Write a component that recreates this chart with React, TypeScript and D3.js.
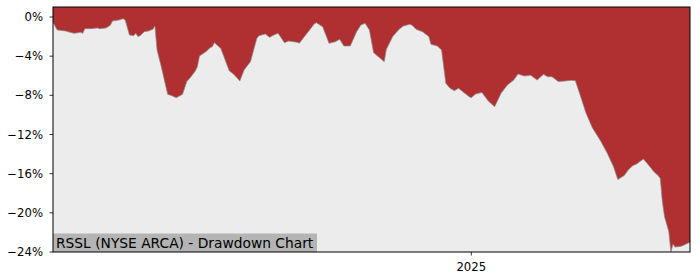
import React from "react";
import * as d3 from "d3";

const dates: string[] = [
  "2024-06-18","2024-06-20","2024-06-24","2024-06-26","2024-06-28","2024-07-01","2024-07-02","2024-07-03","2024-07-06","2024-07-09",
  "2024-07-10","2024-07-13","2024-07-15","2024-07-16","2024-07-19","2024-07-21","2024-07-22","2024-07-24","2024-07-26","2024-07-27",
  "2024-07-28","2024-07-29","2024-07-31","2024-08-02","2024-08-04","2024-08-05","2024-08-06","2024-08-08","2024-08-11","2024-08-13",
  "2024-08-15","2024-08-18","2024-08-20","2024-08-22","2024-08-24","2024-08-25","2024-08-26","2024-08-29","2024-08-31","2024-09-01",
  "2024-09-02","2024-09-05","2024-09-09","2024-09-11","2024-09-14","2024-09-16","2024-09-19","2024-09-22","2024-09-23","2024-09-26",
  "2024-09-28","2024-09-30","2024-10-02","2024-10-05","2024-10-07","2024-10-11","2024-10-12","2024-10-14","2024-10-16","2024-10-19",
  "2024-10-20","2024-10-23","2024-10-26","2024-10-29","2024-10-31","2024-11-02","2024-11-05","2024-11-08","2024-11-10","2024-11-12",
  "2024-11-14","2024-11-16","2024-11-21","2024-11-22","2024-11-25","2024-11-28","2024-11-30","2024-12-03","2024-12-04","2024-12-06",
  "2024-12-09","2024-12-12","2024-12-13","2024-12-16","2024-12-18","2024-12-20","2024-12-22","2024-12-24","2024-12-26","2024-12-28",
  "2024-12-31","2025-01-01","2025-01-03","2025-01-06","2025-01-09","2025-01-12","2025-01-15","2025-01-18","2025-01-21","2025-01-23",
  "2025-01-26","2025-01-29","2025-02-01","2025-02-04","2025-02-06","2025-02-08","2025-02-11","2025-02-14","2025-02-17","2025-02-19",
  "2025-02-21","2025-02-24","2025-02-27","2025-03-03","2025-03-06","2025-03-09","2025-03-11","2025-03-14","2025-03-16","2025-03-18",
  "2025-03-20","2025-03-23","2025-03-25","2025-03-28","2025-03-30","2025-03-31","2025-04-01","2025-04-02","2025-04-04","2025-04-05",
  "2025-04-06","2025-04-07","2025-04-10","2025-04-12","2025-04-14",
];

const drawdown: number[] = [
  -0.55,-1.33,-1.43,-1.57,-1.67,-1.57,-1.67,-1.19,-1.19,-1.12,
  -1.19,-1.12,-0.85,-0.41,-0.31,-0.17,-0.31,-1.84,-1.91,-1.67,
  -2.0,-1.91,-1.5,-1.43,-1.26,-0.92,-3.37,-5.08,-7.9,-8.04,
  -8.24,-7.9,-6.6,-6.1,-5.52,-5.08,-3.98,-3.54,-3.13,-3.03,
  -2.62,-3.2,-5.5,-5.82,-6.54,-5.41,-4.56,-2.18,-1.91,-1.74,
  -2.08,-1.84,-1.67,-2.62,-2.45,-2.59,-2.69,-2.11,-1.57,-0.72,
  -0.58,-0.99,-2.69,-2.52,-2.28,-2.96,-2.96,-1.5,-0.82,-0.65,
  -1.33,-3.64,-4.56,-3.3,-2.0,-1.26,-0.92,-0.75,-0.82,-1.26,
  -1.5,-2.0,-2.79,-2.96,-3.37,-6.77,-7.28,-7.53,-7.28,-7.63,
  -8.14,-8.24,-7.87,-7.7,-8.58,-9.16,-7.8,-6.95,-6.44,-5.82,
  -6.03,-5.96,-6.44,-5.86,-6.1,-6.1,-6.6,-6.54,-6.47,-6.5,
  -7.8,-9.8,-11.3,-12.7,-13.9,-15.3,-16.6,-16.2,-15.6,-15.2,
  -15.0,-14.5,-15.0,-15.8,-16.2,-16.5,-18.9,-20.4,-21.9,-24.0,
  -23.2,-23.5,-23.4,-23.2,-23.0,
];

const yTicks: number[] = [0, -4, -8, -12, -16, -20, -24];
const xTickDates: string[] = ["2025-01-01"];
const xTickLabels: string[] = ["2025"];
const title = "RSSL (NYSE ARCA) - Drawdown Chart";

export default function App() {
  const W = 700, H = 280;
  const left = 53, right = 690, top = 7, bottom = 252;
  const parse = d3.timeParse("%Y-%m-%d");
  const data = dates.map((d, i) => ({ date: parse(d) as Date, v: drawdown[i] }));
  const x = d3.scaleTime()
    .domain([data[0].date, data[data.length - 1].date])
    .range([left, right]);
  const y = d3.scaleLinear().domain([-24, 1.02]).range([bottom, top]);

  const area = d3.area<{ date: Date; v: number }>()
    .x(d => x(d.date))
    .y0(top)
    .y1(d => y(d.v));
  const line = d3.line<{ date: Date; v: number }>()
    .x(d => x(d.date))
    .y(d => y(d.v));

  const font = "'DejaVu Sans', sans-serif";
  const fmt = (v: number) => (v < 0 ? "\u2212" + Math.abs(v) : String(v)) + "%";

  return (
    <svg width={W} height={H} style={{ position: "absolute", left: 0, top: 0, background: "#fff" }}>
      <defs>
        <clipPath id="plot">
          <rect x={left} y={top} width={right - left} height={bottom - top} />
        </clipPath>
      </defs>
      <rect x={left} y={top} width={right - left} height={bottom - top} fill="#ececec" />
      <g clipPath="url(#plot)">
        <path d={area(data) || ""} fill="#b03031" />
        <path d={line(data) || ""} fill="none" stroke="#8a8a8a" strokeWidth={0.7} />
      </g>
      <rect x={left} y={233.5} width={264} height={bottom - 233.5} fill="#b4b4b4" />
      <text x={56} y={247.5} fontFamily={font} fontSize={13.8} fill="#000">{title}</text>
      <rect x={left} y={top} width={right - left} height={bottom - top} fill="none" stroke="#000" strokeWidth={1} />
      {yTicks.map(t => (
        <g key={t}>
          <line x1={left - 3.5} x2={left} y1={y(t)} y2={y(t)} stroke="#000" strokeWidth={0.8} />
          <text x={left - 10} y={y(t)} dy="0.35em" textAnchor="end" fontFamily={font} fontSize={11.7} fill="#000">{fmt(t)}</text>
        </g>
      ))}
      {xTickDates.map((d, i) => {
        const xx = x(parse(d) as Date);
        return (
          <g key={d}>
            <line x1={xx} x2={xx} y1={bottom} y2={bottom + 3.5} stroke="#000" strokeWidth={0.8} />
            <text x={xx} y={bottom + 19} textAnchor="middle" fontFamily={font} fontSize={11.7} fill="#000">{xTickLabels[i]}</text>
          </g>
        );
      })}
    </svg>
  );
}
